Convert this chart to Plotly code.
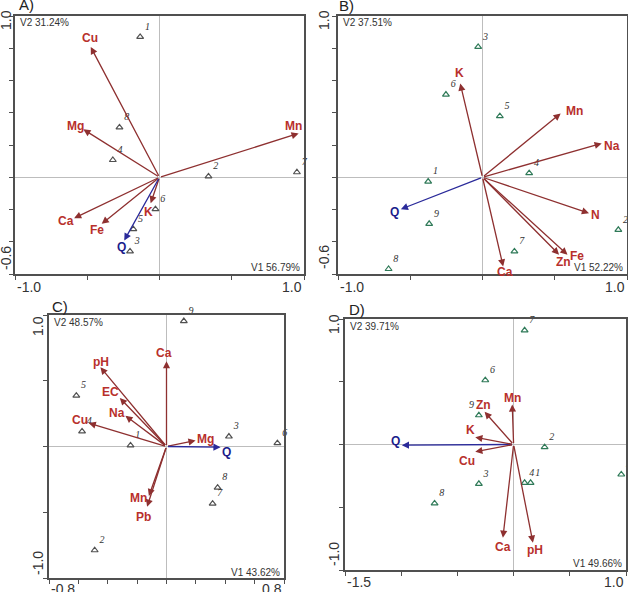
import plotly.graph_objects as go

W, H = 628, 592

# ---------------- data ----------------
# Panel A
A_vars = ["Cu", "Mg", "Mn", "Ca", "Fe", "K", "Q"]
A_v1 = [-0.476, -0.527, 0.963, -0.591, -0.400, -0.061, -0.244]
A_v2 = [0.808, 0.297, 0.272, -0.254, -0.289, -0.161, -0.392]
A_sites = ["1", "8", "4", "2", "7", "6", "5", "3"]
A_s1 = [-0.134, -0.277, -0.323, 0.339, 0.951, -0.028, -0.181, -0.204]
A_s2 = [0.870, 0.309, 0.107, 0.005, 0.031, -0.198, -0.322, -0.460]

# Panel B
B_vars = ["K", "Mn", "Na", "N", "Fe", "Zn", "Ca", "Q"]
B_v1 = [-0.154, 0.541, 0.825, 0.737, 0.588, 0.530, 0.143, -0.565]
B_v2 = [0.581, 0.396, 0.210, -0.223, -0.480, -0.480, -0.553, -0.198]
B_sites = ["3", "6", "5", "4", "1", "9", "2", "7", "8"]
B_s1 = [-0.030, -0.253, 0.120, 0.323, -0.376, -0.369, 0.940, 0.221, -0.650]
B_s2 = [0.808, 0.513, 0.379, 0.025, -0.027, -0.289, -0.326, -0.460, -0.569]

# Panel C
C_vars = ["Ca", "pH", "EC", "Na", "Cu", "Mg", "Q", "Mn", "Pb"]
C_v1 = [0.000, -0.450, -0.318, -0.280, -0.530, 0.198, 0.368, -0.120, -0.132]
C_v2 = [0.649, 0.603, 0.369, 0.234, 0.178, 0.046, -0.005, -0.377, -0.458]
C_sites = ["9", "5", "4", "1", "3", "6", "8", "7", "2"]
C_s1 = [0.118, -0.614, -0.575, -0.245, 0.425, 0.755, 0.348, 0.314, -0.489]
C_s2 = [0.954, 0.387, 0.115, 0.008, 0.076, 0.025, -0.313, -0.435, -0.789]

# Panel D
D_vars = ["Q", "Mn", "Zn", "K", "Cu", "Ca", "pH"]
D_v1 = [-0.994, -0.012, -0.258, -0.341, -0.341, -0.095, 0.172]
D_v2 = [-0.005, 0.318, 0.260, 0.058, -0.058, -0.743, -0.782]
D_sites = ["7", "6", "9", "2", "5", "4", "1", "3", "8"]
D_s1 = [0.098, -0.252, -0.309, 0.276, 0.958, 0.098, 0.151, -0.309, -0.703]
D_s2 = [0.910, 0.512, 0.233, -0.021, -0.239, -0.305, -0.305, -0.313, -0.469]

A_axes = ("V1 56.79%", "V2 31.24%")
B_axes = ("V1 52.22%", "V2 37.51%")
C_axes = ("V1 43.62%", "V2 48.57%")
D_axes = ("V1 49.66%", "V2 39.71%")

# ---------------- styles / layout ----------------
RED_LINE = "#8E3030"
RED_TXT = "#B8302C"
BLUE_LINE = "#2A2A9A"
BLUE_TXT = "#1C1C8A"
GREEN = "#2F7A58"
GREY = "#505050"

# label offsets (px) relative to arrow tips
A_off = {"Cu": (-1, 9), "Mg": (-8, 3), "Mn": (-5, 7), "Ca": (-8, -3), "Fe": (-5, -6), "K": (-2, -9), "Q": (-3, -7)}
B_off = {"K": (-1, 11), "Mn": (14, 2), "Na": (10, -3), "N": (6, -2), "Fe": (10, -1), "Zn": (4, -7), "Ca": (2, -6), "Q": (-6, -3)}
C_off = {"Ca": (-3, 8), "pH": (1, 5), "EC": (-9, 6), "Na": (-8, 3), "Cu": (-9, 3), "Mg": (10, 1), "Q": (6, -5), "Mn": (-10, -2), "Pb": (-4, -10)}
D_off = {"Q": (-6, 4), "Mn": (0, 7), "Zn": (-1, 7), "K": (-5, 7), "Cu": (-8, -9), "Ca": (0, -9), "pH": (2, -7)}

panels = [
    dict(k="", vars=A_vars, v1=A_v1, v2=A_v2, sites=A_sites, s1=A_s1, s2=A_s2, off=A_off, axl=A_axes,
         box=(15, 304, 16, 274), xr=[-1, 1], yr=[-0.6, 1.0],
         xt=[-1, -0.5, 0, 0.5, 1], yt=[-0.6, -0.4, -0.2, 0, 0.2, 0.4, 0.6, 0.8, 1.0],
         xlab=("-1.0", "1.0"), ylab=("-0.6", "1.0"), title="A)", tpos=(26, 5),
         mcol=GREY, ylabx=6, ylaby=(258, 20), xlaby=287, v2y=22, v1y=267),
    dict(k="2", vars=B_vars, v1=B_v1, v2=B_v2, sites=B_sites, s1=B_s1, s2=B_s2, off=B_off, axl=B_axes,
         box=(338, 627, 16, 274), xr=[-1, 1], yr=[-0.6, 1.0],
         xt=[-1, -0.5, 0, 0.5, 1], yt=[-0.6, -0.4, -0.2, 0, 0.2, 0.4, 0.6, 0.8, 1.0],
         xlab=("-1.0", "1.0"), ylab=("-0.6", "1.0"), title="B)", tpos=(346, 6),
         mcol=GREEN, ylabx=324, ylaby=(257, 20), xlaby=287, v2y=22, v1y=267),
    dict(k="3", vars=C_vars, v1=C_v1, v2=C_v2, sites=C_sites, s1=C_s1, s2=C_s2, off=C_off, axl=C_axes,
         box=(49, 284, 315, 578), xr=[-0.8, 0.8], yr=[-1.0, 1.0],
         xt=[-0.8, -0.6, -0.4, -0.2, 0, 0.2, 0.4, 0.6, 0.8], yt=[-1, -0.5, 0, 0.5, 1],
         xlab=("-0.8", "0.8"), ylab=("-1.0", "1.0"), title="C)", tpos=(60, 306),
         mcol=GREY, ylabx=38, ylaby=(563, 326), xlaby=589, v2y=322, v1y=572),
    dict(k="4", vars=D_vars, v1=D_v1, v2=D_v2, sites=D_sites, s1=D_s1, s2=D_s2, off=D_off, axl=D_axes,
         box=(345, 626, 319, 570), xr=[-1.5, 1.0], yr=[-1.0, 1.0],
         xt=[-1.5, -1, -0.5, 0, 0.5, 1], yt=[-1, -0.5, 0, 0.5, 1],
         xlab=("-1.5", "1.0"), ylab=("-1.0", "1.0"), title="D)", tpos=(357, 309),
         mcol=GREEN, ylabx=334, ylaby=(554, 324), xlaby=582, v2y=326, v1y=563),
]

fig = go.Figure()
annotations = []
layout = {}

TICKFONT = dict(family="Liberation Sans, Arial", size=14, color="#333333")

def px(xp):
    return xp / W

def py(yp):
    return 1 - yp / H

for p in panels:
    k = p["k"]
    xa, ya = "x" + k, "y" + k
    x0, x1, y0, y1 = p["box"]
    axis_common = dict(showgrid=False, showline=True, mirror=True, linecolor=GREY, linewidth=1.5,
                       ticks="outside", ticklen=4, tickcolor=GREY, tickwidth=1,
                       showticklabels=False, zeroline=True, zerolinecolor="#bdbdbd",
                       zerolinewidth=1, fixedrange=True)
    layout["xaxis" + k] = dict(domain=[px(x0), px(x1)], range=p["xr"], tickvals=p["xt"],
                               anchor=ya, **axis_common)
    layout["yaxis" + k] = dict(domain=[py(y1), py(y0)], range=p["yr"], tickvals=p["yt"],
                               anchor=xa, **axis_common)

    # sites
    tpos = ["top left" if (k == "4" and s == "9") else "top right" for s in p["sites"]]
    fig.add_trace(go.Scatter(
        x=p["s1"], y=p["s2"], xaxis=xa, yaxis=ya, mode="markers+text",
        text=p["sites"], textposition=tpos,
        textfont=dict(family="Liberation Serif", size=10, color="#333333", style="italic"),
        marker=dict(symbol="triangle-up-open", size=6, color=p["mcol"], line=dict(width=1.2)),
        showlegend=False, hoverinfo="skip", cliponaxis=False))

    # arrows + labels
    for name, vx, vy in zip(p["vars"], p["v1"], p["v2"]):
        isq = name == "Q"
        lc = BLUE_LINE if isq else RED_LINE
        tc = BLUE_TXT if isq else RED_TXT
        annotations.append(dict(x=vx, y=vy, ax=0, ay=0, xref=xa, yref=ya, axref=xa, ayref=ya,
                                showarrow=True, arrowhead=2, arrowsize=1.1, arrowwidth=1.3,
                                arrowcolor=lc, text="", standoff=0, startstandoff=0))
        dx, dy = p["off"][name]
        annotations.append(dict(x=vx, y=vy, xref=xa, yref=ya, text="<b>%s</b>" % name,
                                showarrow=False, xshift=dx, yshift=dy,
                                font=dict(family="Liberation Sans, Arial", size=12, color=tc)))

    # axis variance labels
    annotations.append(dict(x=px(x0 + 3), y=py(p["v2y"]), xref="paper", yref="paper",
                            text=p["axl"][1], showarrow=False, xanchor="left", yanchor="middle",
                            font=dict(family="Liberation Sans, Arial", size=10, color="#333333")))
    annotations.append(dict(x=px(x1 - 2), y=py(p["v1y"]), xref="paper", yref="paper",
                            text=p["axl"][0], showarrow=False, xanchor="right", yanchor="middle",
                            font=dict(family="Liberation Sans, Arial", size=10, color="#333333")))
    # tick labels at axis ends
    annotations.append(dict(x=px(x0), y=py(p["xlaby"]), xref="paper", yref="paper", text=p["xlab"][0],
                            showarrow=False, xanchor="left", yanchor="middle", font=TICKFONT))
    annotations.append(dict(x=px(x1), y=py(p["xlaby"]), xref="paper", yref="paper", text=p["xlab"][1],
                            showarrow=False, xanchor="right", yanchor="middle", font=TICKFONT))
    annotations.append(dict(x=px(p["ylabx"]), y=py(p["ylaby"][0]), xref="paper", yref="paper",
                            text=p["ylab"][0], showarrow=False, textangle=-90,
                            xanchor="center", yanchor="middle", font=TICKFONT))
    annotations.append(dict(x=px(p["ylabx"]), y=py(p["ylaby"][1]), xref="paper", yref="paper",
                            text=p["ylab"][1], showarrow=False, textangle=-90,
                            xanchor="center", yanchor="middle", font=TICKFONT))
    # panel title
    annotations.append(dict(x=px(p["tpos"][0]), y=py(p["tpos"][1]), xref="paper", yref="paper",
                            text=p["title"], showarrow=False, xanchor="center", yanchor="middle",
                            font=dict(family="Liberation Sans, Arial", size=15, color="#222222")))

fig.update_layout(width=W, height=H, margin=dict(l=0, r=0, t=0, b=0),
                  paper_bgcolor="white", plot_bgcolor="white",
                  annotations=annotations, **layout)

fig.write_html("out.html", config={"displayModeBar": False},
               post_script="document.body.style.margin='0';document.body.style.overflow='hidden';")
